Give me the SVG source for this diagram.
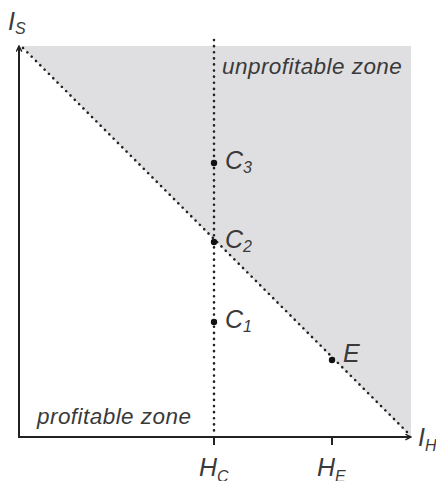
<svg xmlns="http://www.w3.org/2000/svg" width="436" height="481" viewBox="0 0 436 481">
<style>
.t{font-family:"Liberation Sans",Arial,sans-serif;font-style:italic;fill:#3a3a3a;}
.lbl{font-size:25px;}
.sub{font-size:16px;}
.zone{font-size:22.5px;letter-spacing:0.45px;}
.dot{stroke:#222;stroke-width:2.6;stroke-dasharray:0.1 6;stroke-linecap:round;fill:none;}
.ax{stroke:#222;stroke-width:2;fill:none;}
.pt{fill:#111;}
</style>
<defs>
<marker id="ah" viewBox="0 0 10 10" refX="9" refY="5" markerWidth="7" markerHeight="7" markerUnits="userSpaceOnUse" orient="auto">
<path d="M1,1 L9,5 L1,9" fill="none" stroke="#222" stroke-width="2"/>
</marker>
</defs>
<rect width="436" height="481" fill="#fff"/>
<g id="zone-unprofitable">
<polygon points="21,46 411,46 411,437" fill="#dfdfe1"/>
<text class="t zone" x="222" y="74">unprofitable zone</text>
</g>
<g id="zone-profitable">
<text class="t zone" x="37" y="424">profitable zone</text>
</g>
<g id="connectors">
<line class="dot" x1="214" y1="40" x2="214" y2="436"/>
<line class="dot" x1="23" y1="48" x2="410" y2="435"/>
<line class="ax" x1="19" y1="438" x2="19" y2="46" marker-end="url(#ah)"/>
<line class="ax" x1="18" y1="437" x2="411" y2="437" marker-end="url(#ah)"/>
<line class="ax" x1="214" y1="437" x2="214" y2="445"/>
<line class="ax" x1="332" y1="437" x2="332" y2="445"/>
</g>
<g id="axis-IS"><text class="t lbl" x="8" y="30">I<tspan class="sub" dy="4">S</tspan></text></g>
<g id="axis-IH"><text class="t lbl" x="418" y="446">I<tspan class="sub" dy="5">H</tspan></text></g>
<g id="tick-HC"><text class="t lbl" x="199" y="476">H<tspan class="sub" dy="6">C</tspan></text></g>
<g id="tick-HE"><text class="t lbl" x="317" y="476">H<tspan class="sub" dy="6">E</tspan></text></g>
<g id="C3"><circle class="pt" cx="214" cy="163" r="3.2"/><text class="t lbl" x="225" y="169">C<tspan class="sub" dy="4">3</tspan></text></g>
<g id="C2"><circle class="pt" cx="214" cy="242" r="3.2"/><text class="t lbl" x="225" y="248">C<tspan class="sub" dy="4">2</tspan></text></g>
<g id="C1"><circle class="pt" cx="214" cy="322" r="3.2"/><text class="t lbl" x="225" y="328">C<tspan class="sub" dy="4">1</tspan></text></g>
<g id="E"><circle class="pt" cx="332" cy="360" r="3.2"/><text class="t lbl" x="343" y="362">E</text></g>
</svg>
